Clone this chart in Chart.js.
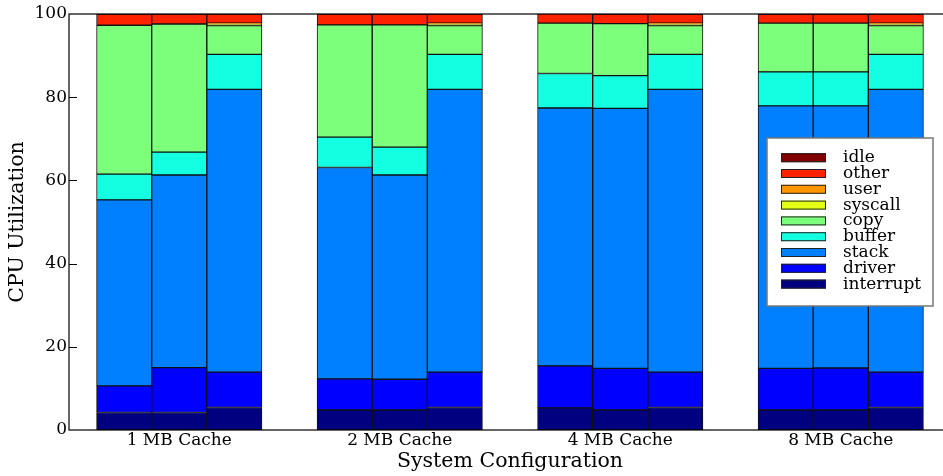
<html>
<head>
<meta charset="utf-8">
<title>CPU Utilization</title>
<script src="https://cdn.jsdelivr.net/npm/chart.js@4.4.1/dist/chart.umd.min.js"></script>
<style>
  body { margin: 0; overflow: hidden; background: #fff; }
  canvas { display: block; }
</style>
</head>
<body>
<canvas id="cpu_chart" width="960" height="476"></canvas>

<script>
  // groups of three bars each (x axis labels)
  var configs = ["1 MB Cache", "2 MB Cache", "4 MB Cache", "8 MB Cache"]
  var barsPerGroup = 3

  // one value per bar, left to right (12 bars), bottom of stack first
  var interrupt = [4.2, 4.2, 5.4, 4.8, 4.8, 5.4, 5.3, 4.8, 5.4, 4.8, 4.8, 5.4]
  var driver    = [6.4, 10.8, 8.5, 7.5, 7.4, 8.5, 10.1, 10.0, 8.5, 10.0, 10.1, 8.5]
  var stack     = [44.7, 46.3, 68.0, 50.8, 49.1, 68.0, 62.0, 62.5, 68.0, 63.1, 63.0, 68.0]
  var buffer    = [6.2, 5.5, 8.4, 7.3, 6.7, 8.4, 8.3, 7.9, 8.4, 8.2, 8.2, 8.4]
  var copy      = [35.8, 30.8, 6.9, 27.0, 29.4, 6.9, 12.1, 12.5, 6.9, 11.7, 11.7, 6.9]
  var syscall   = [0, 0, 0.4, 0, 0, 0.4, 0, 0, 0.4, 0, 0, 0.4]
  var user      = [0, 0, 0.2, 0, 0, 0.2, 0, 0, 0.2, 0, 0, 0.2]
  var other     = [2.7, 2.4, 2.2, 2.6, 2.6, 2.2, 2.3, 2.3, 2.2, 2.2, 2.2, 2.2]
  var idle      = [0, 0, 0, 0, 0, 0, 0, 0, 0, 0, 0, 0]

  var yTicks = [0, 20, 40, 60, 80, 100]

  var series = [
    ["interrupt", interrupt, "#000080"],
    ["driver", driver, "#0000ff"],
    ["stack", stack, "#0080ff"],
    ["buffer", buffer, "#14ffe2"],
    ["copy", copy, "#7cff7a"],
    ["syscall", syscall, "#e2ff14"],
    ["user", user, "#ff9600"],
    ["other", other, "#ff2200"],
    ["idle", idle, "#800000"]
  ]

  // bar slot on the x axis: three bars then one empty slot per group
  function slot(i){
    var g = Math.floor(i / barsPerGroup)
    return g * (barsPerGroup + 1) + (i % barsPerGroup) + 1
  }

  var datasets = series.map(function(s){
    return {
      label: s[0],
      data: s[1].map(function(v, i){ return {x: slot(i), y: v} }),
      backgroundColor: s[2],
      borderColor: "#111",
      borderWidth: 1,
      borderSkipped: false,
      barPercentage: 1.0,
      categoryPercentage: 1.0
    }
  })

  var serif = "'DejaVu Serif', serif"

  // frame around the plot, inward ticks and the boxed legend
  var decor = {
    id: "decor",
    afterDatasetsDraw: function(chart){
      var c = chart.ctx, a = chart.chartArea, ys = chart.scales.y
      c.save()
      c.strokeStyle = "#000"
      c.lineWidth = 1.2
      c.strokeRect(a.left, a.top, a.right - a.left, a.bottom - a.top)
      c.lineWidth = 1
      yTicks.forEach(function(v){
        if (v == 0 || v == 100) return
        var py = Math.round(ys.getPixelForValue(v)) + 0.5
        c.beginPath(); c.moveTo(a.left, py); c.lineTo(a.left + 8, py); c.stroke()
      })

      // legend box
      var bx = 767, by = 138, bw = 166, bh = 168
      c.fillStyle = "#fff"
      c.fillRect(bx, by, bw, bh)
      c.strokeStyle = "#777"
      c.lineWidth = 1.5
      c.strokeRect(bx, by, bw, bh)
      c.font = "17px " + serif
      c.textBaseline = "middle"
      var rows = chart.data.datasets.slice().reverse()
      rows.forEach(function(ds, k){
        var cy = 157.7 + k * 15.8
        c.fillStyle = ds.backgroundColor
        c.fillRect(bx + 14, cy - 4.5, 45, 9)
        c.strokeStyle = "#222"
        c.lineWidth = 1
        c.strokeRect(bx + 14.5, cy - 4, 44, 8)
        c.fillStyle = "#000"
        c.fillText(ds.label, bx + 76, cy)
      })
      c.restore()
    }
  }

  var chart = new Chart(document.getElementById("cpu_chart").getContext("2d"), {
    type: "bar",
    data: { datasets: datasets },
    options: {
      animation: false,
      responsive: false,
      layout: { padding: { top: 14, right: 9, left: 0, bottom: 0 } },
      plugins: { legend: { display: false }, tooltip: { enabled: false } },
      scales: {
        x: {
          type: "linear",
          stacked: true,
          offset: false,
          min: 0,
          max: configs.length * (barsPerGroup + 1),
          grid: { display: false, drawTicks: false },
          border: { display: false },
          afterBuildTicks: function(scale){
            scale.ticks = configs.map(function(c, g){ return {value: g * (barsPerGroup + 1) + 2} })
          },
          afterFit: function(scale){ scale.height = 46 },
          ticks: {
            autoSkip: false,
            maxRotation: 0,
            padding: 0,
            color: "#000",
            font: { family: serif, size: 17 },
            callback: function(v, i){ return configs[i] }
          },
          title: {
            display: true,
            text: "System Configuration",
            color: "#000",
            font: { family: serif, size: 20.5 },
            padding: { top: 0, bottom: 2 }
          }
        },
        y: {
          stacked: true,
          min: 0,
          max: 100,
          grid: { display: false, drawTicks: false },
          border: { display: false },
          afterBuildTicks: function(scale){
            scale.ticks = yTicks.map(function(v){ return {value: v} })
          },
          afterFit: function(scale){ scale.width = 69 },
          ticks: {
            padding: 2,
            color: "#000",
            font: { family: serif, size: 17 }
          },
          title: {
            display: true,
            text: "CPU Utilization",
            color: "#000",
            font: { family: serif, size: 20.5 },
            padding: { top: 5, bottom: 0 }
          }
        }
      }
    },
    plugins: [decor]
  });
</script>
</body>
</html>
